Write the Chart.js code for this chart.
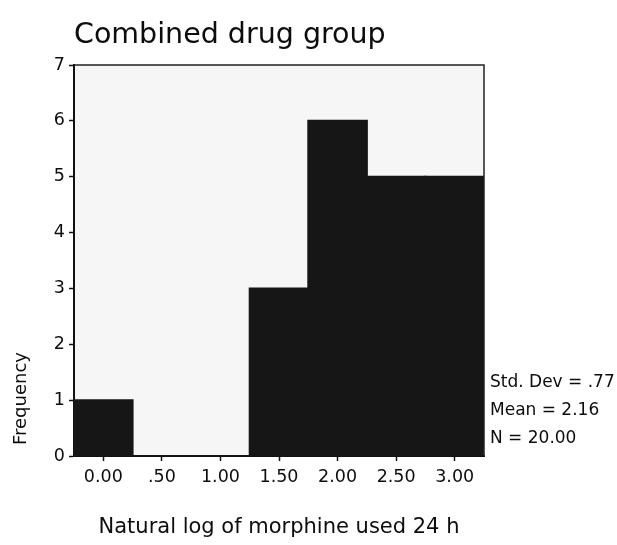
<!DOCTYPE html>
<html>
<head>
<meta charset="utf-8">
<script src="https://cdn.jsdelivr.net/npm/chart.js@4.4.0/dist/chart.umd.min.js"></script>
<style>
  body { margin: 0; background: #fff; }
  canvas { display: block; }
</style>
</head>
<body>
<canvas id="grafico" width="617" height="545"></canvas>
<script>
const etiquetas = ['0.00', '.50', '1.00', '1.50', '2.00', '2.50', '3.00'];
const frecuencias = [1, 0, 0, 3, 6, 5, 5];
const titulo = 'Combined drug group';
const tituloX = 'Natural log of morphine used 24 h';
const tituloY = 'Frequency';
const estadisticas = ['Std. Dev = .77', 'Mean = 2.16', 'N = 20.00'];

const fuente = 'DejaVu Sans';

// fondo gris del area, marco y textos sueltos
const textosExtra = {
    id: 'textosExtra',
    beforeDraw(chart) {
        const { ctx, chartArea: a } = chart;
        ctx.save();
        ctx.fillStyle = '#f6f6f6';
        ctx.fillRect(a.left, a.top, a.right - a.left, a.bottom - a.top);
        ctx.restore();
    },
    afterDraw(chart) {
        const { ctx, chartArea: a } = chart;
        ctx.save();
        ctx.strokeStyle = '#222';
        ctx.lineWidth = 1.5;
        ctx.beginPath();
        ctx.moveTo(a.left, a.top);
        ctx.lineTo(a.right, a.top);
        ctx.lineTo(a.right, a.bottom);
        ctx.stroke();

        ctx.fillStyle = '#0d0d0d';
        ctx.textBaseline = 'alphabetic';
        ctx.textAlign = 'left';
        ctx.font = '28.5px "' + fuente + '"';
        ctx.fillText(titulo, a.left, 43);

        ctx.font = '17px "' + fuente + '"';
        estadisticas.forEach((t, i) => {
            ctx.fillText(t, a.right + 6, a.bottom - 69 + i * 28);
        });

        ctx.translate(26, a.bottom - 11);
        ctx.rotate(-Math.PI / 2);
        ctx.font = '18px "' + fuente + '"';
        ctx.fillText(tituloY, 0, 0);
        ctx.restore();
    }
};

new Chart(document.getElementById('grafico').getContext('2d'), {
    type: 'bar',
    data: {
        labels: etiquetas,
        datasets: [{
            data: frecuencias,
            backgroundColor: '#161616',
            borderWidth: 0,
            inflateAmount: 1,
            barPercentage: 1,
            categoryPercentage: 1
        }]
    },
    options: {
        responsive: false,
        animation: false,
        layout: { padding: { top: 65, right: 133, left: 0, bottom: 0 } },
        plugins: {
            legend: { display: false },
            tooltip: { enabled: false }
        },
        scales: {
            x: {
                offset: true,
                grid: { offset: false, drawOnChartArea: false, tickLength: 5, tickColor: '#111', tickWidth: 1.5 },
                border: { color: '#111', width: 2 },
                ticks: { color: '#0d0d0d', font: { family: fuente, size: 17.5 }, padding: 6, maxRotation: 0 },
                title: { display: true, text: tituloX, color: '#0d0d0d', font: { family: fuente, size: 21 }, padding: { bottom: 5, top: 0 } },
                afterFit: s => { s.height = 89; }
            },
            y: {
                min: 0,
                max: 7,
                grid: { drawOnChartArea: false, tickLength: 5, tickColor: '#111', tickWidth: 1.5 },
                border: { color: '#111', width: 2 },
                ticks: { stepSize: 1, color: '#0d0d0d', font: { family: fuente, size: 17.5 }, padding: 4 },
                afterFit: s => { s.width = 74; }
            }
        }
    },
    plugins: [textosExtra]
});
</script>
</body>
</html>
